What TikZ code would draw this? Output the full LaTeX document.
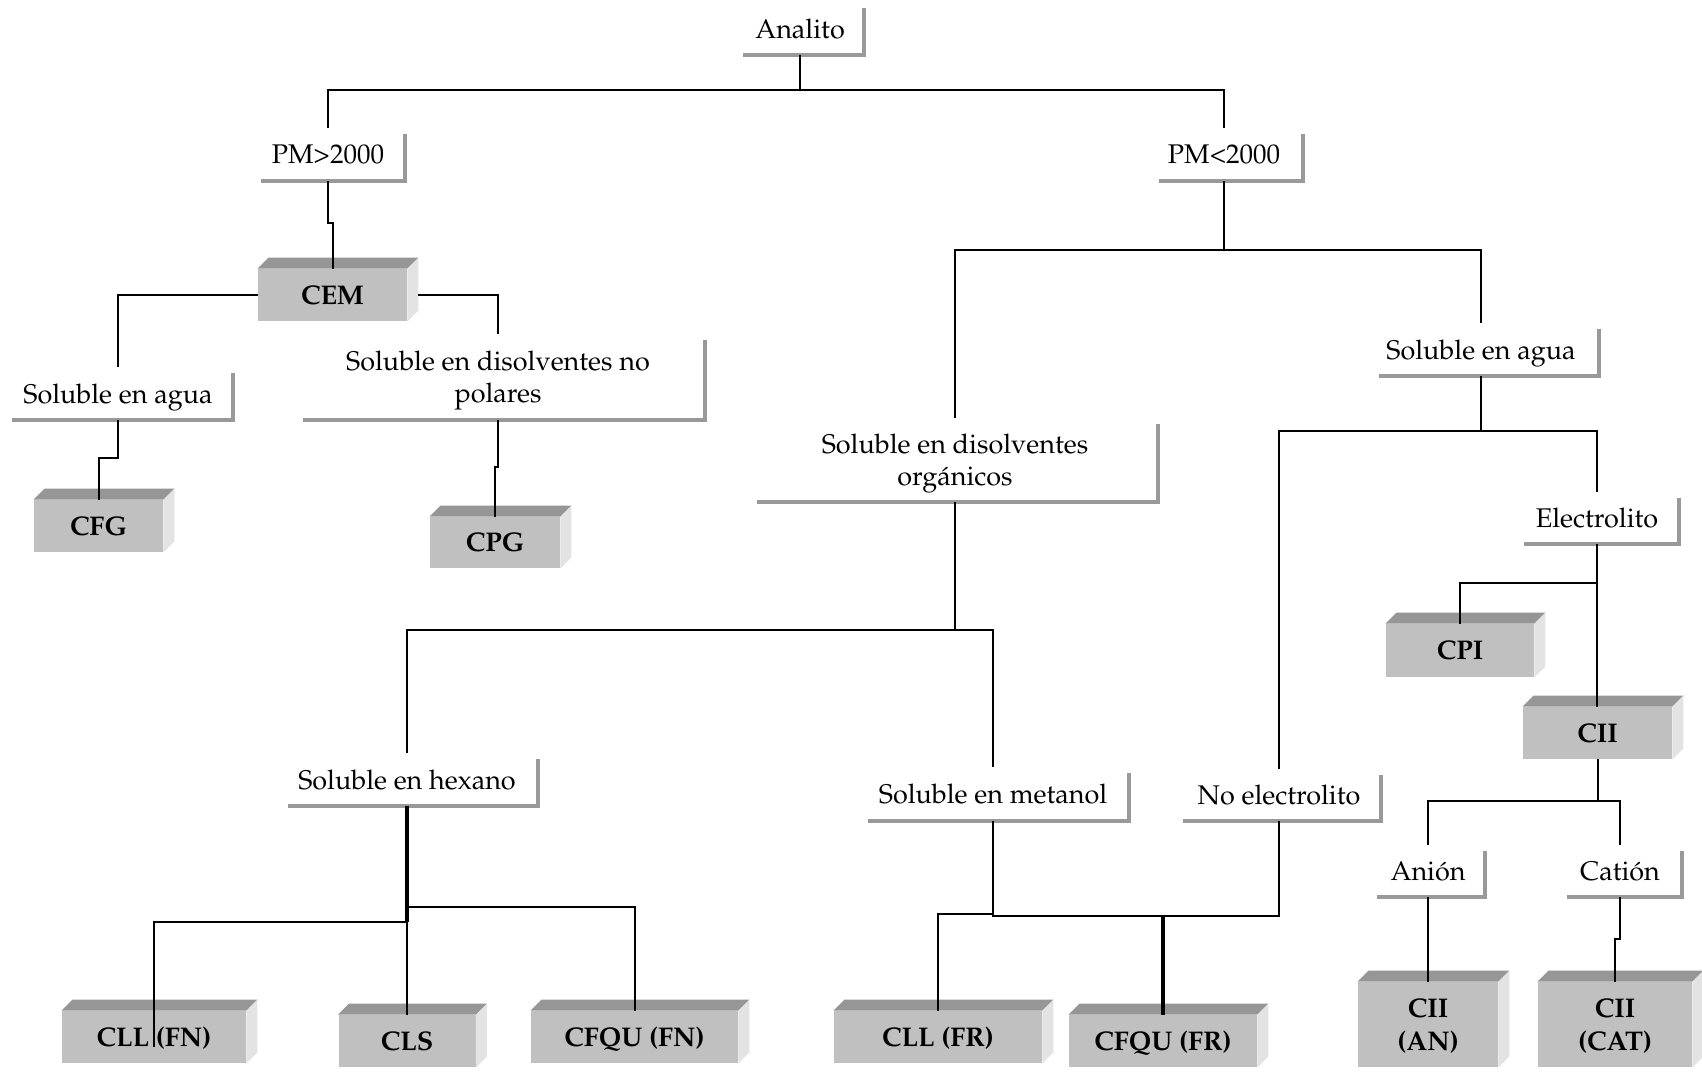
\documentclass[tikz,border=0pt]{standalone}
\usepackage[T1]{fontenc}
\usepackage{mathpazo}
\definecolor{frente}{HTML}{C0C0C0}
\definecolor{tapa}{HTML}{969696}
\definecolor{lado}{HTML}{E3E3E3}
\definecolor{marcogris}{HTML}{999999}
\tikzset{
  sz/.style 2 args={minimum width=#1*0.5pt, minimum height=#2*0.5pt},
  etiq/.style={rectangle, inner sep=0pt, align=center, text depth=0pt,
    font=\fontsize{13.5}{15.8}\selectfont},
  caja/.style={rectangle, inner sep=0pt, fill=frente, align=center, text depth=0pt,
    font=\fontsize{13.5}{16.8}\selectfont\bfseries},
  marco/.style={draw=marcogris, line width=2pt, miter limit=4},
  enlace/.style={draw=black, line width=1pt},
  gruesa/.style={draw=black, line width=1.8pt},
  tapacara/.style={fill=tapa},
  ladocara/.style={fill=lado}
}
\begin{document}
\begin{tikzpicture}[x=0.5pt, y=-0.5pt]
\useasboundingbox (0,0) rectangle (1702,1072);
\fill[white] (0,0) rectangle (1702,1072);

% decision labels
\node[etiq, sz={128}{53}] (ana) at (800,28.5) {Analito};
\node[etiq, sz={154}{53}] (pm1) at (328,154.5) {PM>2000};
\node[etiq, sz={158}{53}] (pm2) at (1224,154.5) {PM<2000};
\node[etiq, sz={230}{53}] (sa1) at (118,393.5) {Soluble en agua};
\node[etiq, sz={414}{86}] (snp) at (498,377) {Soluble en disolventes no\\polares};
\node[etiq, sz={236}{53}] (sa2) at (1481,349.5) {Soluble en agua};
\node[etiq, sz={406}{84}] (sdo) at (955,460) {Soluble en disolventes\\org\'anicos};
\node[etiq, sz={164}{52}] (ele) at (1597,518) {Electrolito};
\node[etiq, sz={262}{53}] (hex) at (407,779.5) {Soluble en hexano};
\node[etiq, sz={272}{54}] (met) at (993,794) {Soluble en metanol};
\node[etiq, sz={204}{52}] (noe) at (1279,795) {No electrolito};
\node[etiq, sz={114}{52}] (ani) at (1428,871) {Ani\'on};
\node[etiq, sz={124}{52}] (cat) at (1620,871) {Cati\'on};

% gray L-shaped brackets under the labels
\foreach \n/\s in {ana/7, pm1/10, pm2/14, sa1/9, snp/12, sa2/16, sdo/5, ele/9,
                   hex/12, met/11, noe/6, ani/6, cat/9}
  \draw[marco] ([yshift=-3pt]\n.north east) -- (\n.south east) -- ([xshift=\s*0.5pt]\n.south west);

% technique boxes (front faces)
\node[caja, sz={149}{52}] (cem) at (332.5,295) {CEM};
\node[caja, sz={129}{52}] (cfg) at (98.5,526) {CFG};
\node[caja, sz={130}{51}] (cpg) at (495,542.5) {CPG};
\node[caja, sz={148}{53}] (cpi) at (1460,650.5) {CPI};
\node[caja, sz={149}{52}] (cii) at (1597.5,733) {CII};
\node[caja, sz={140}{85}] (cian) at (1428,1024.5) {CII\\(AN)};
\node[caja, sz={154}{85}] (cicat) at (1615,1024.5) {CII\\(CAT)};
\node[caja, sz={184}{52}] (cllfn) at (154,1037) {CLL (FN)};
\node[caja, sz={137}{52}] (cls) at (407,1041) {CLS};
\node[caja, sz={207}{52}] (cfqfn) at (634.5,1037) {CFQU (FN)};
\node[caja, sz={208}{52}] (cllfr) at (938,1037) {CLL (FR)};
\node[caja, sz={188}{52}] (cfqfr) at (1163,1041) {CFQU (FR)};

% bevelled top and right faces of the boxes
\foreach \n in {cem,cfg,cpg,cpi,cii,cian,cicat,cllfn,cls,cfqfn,cllfr,cfqfr}{
  \fill[tapacara] (\n.north west) -- ++(11,-11) -- ([shift={(11,-11)}]\n.north east) -- (\n.north east) -- cycle;
  \fill[ladocara] (\n.north east) -- ++(11,-11) -- ([shift={(11,-11)}]\n.south east) -- (\n.south east) -- cycle;
}

% connectors
\draw[enlace] (ana.south) -- ++(0,35);
\draw[enlace] (pm1.north) -- ++(0,-38) -| (pm2.north);
\draw[enlace] (pm1.south) -- ++(0,42) -| (cem.north);
\draw[enlace] (cem.west) -| (sa1.north);
\draw[enlace] ([xshift=5.5pt]cem.east) -| (snp.north);
\draw[enlace] (sa1.south) -- ++(0,38) -| (cfg.north);
\draw[enlace] (snp.south) -- ++(0,47) -| (cpg.north);

\draw[enlace] (pm2.south) -- ++(0,69);
\draw[enlace] (sdo.north) -- ++(0,-168) -| (sa2.north);
\draw[enlace] (sa2.south) -- ++(0,55);
\draw[enlace] (noe.north) -- ++(0,-338) -| (ele.north);
\draw[enlace] (ele.south) -- (ele.south |- cii.north);
\draw[enlace] (ele.south) ++(0,39) -| (cpi.north);
\draw[enlace] (cii.south) -- ++(0,42);
\draw[enlace] (ani.north) -- ++(0,-44) -| (cat.north);
\draw[enlace] (ani.south) -- (cian.north);
\draw[enlace] (cat.south) -- ++(0,42) -| (cicat.north);

\draw[enlace] (sdo.south) -- ++(0,128);
\draw[enlace] (hex.north) -- ++(0,-123) -| (met.north);
\draw[gruesa] (hex.south) -- ++(0,116);
\draw[enlace] (hex.south) ++(0,101) -| (cfqfn.north);
\draw[enlace] (hex.south) ++(0,116) -| ([yshift=-18pt]cllfn.north);
\draw[enlace] (hex.south) -- (cls.north);

\draw[enlace] (met.south) -- ++(0,95) -| (noe.south);
\draw[enlace] (met.south) ++(0,93) -| (cllfr.north);
\draw[gruesa] (cfqfr.north) -- ++(0,-99);
\end{tikzpicture}
\end{document}
